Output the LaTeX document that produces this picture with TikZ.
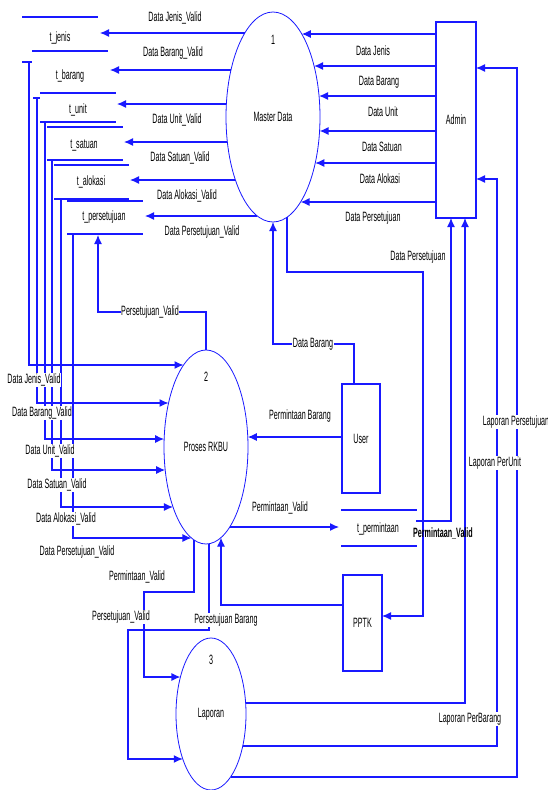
\documentclass[tikz,border=0pt]{standalone}
\usepackage{fontspec}
\newfontfamily\lblfont{Liberation Sans}[FakeStretch=0.53]
\usetikzlibrary{shapes.geometric,arrows.meta}
\definecolor{dfdblue}{RGB}{25,25,255}
\newcommand\mdxl[1]{(273-47*sqrt(1-(((#1)-117)/105)^2))}
\newcommand\mdxr[1]{(273+47*sqrt(1-(((#1)-117)/105)^2))}
\newcommand\mdyb[1]{(117+105*sqrt(1-(((#1)-273)/47)^2))}
\newcommand\prxl[1]{(206-42*sqrt(1-(((#1)-447)/97)^2))}
\newcommand\prxr[1]{(206+42*sqrt(1-(((#1)-447)/97)^2))}
\newcommand\pryb[1]{(447+97*sqrt(1-(((#1)-206)/42)^2))}
\newcommand\lapxl[1]{(211-35*sqrt(1-(((#1)-714)/76)^2))}
\newcommand\lapxr[1]{(211+35*sqrt(1-(((#1)-714)/76)^2))}
\begin{document}
\begin{tikzpicture}[x=1pt,y=-1pt,
  flow/.style={draw=dfdblue,line width=1.2pt,-{Latex[length=9pt,width=8pt]}},
  wire/.style={draw=dfdblue,line width=1.2pt},
  proc/.style={ellipse,draw=dfdblue,line width=0.8pt,inner sep=0pt,outer sep=0pt,
    font=\lblfont\fontsize{13.5}{14}\selectfont},
  ent/.style={rectangle,draw=dfdblue,line width=1.2pt,inner sep=0pt,outer sep=0pt,
    font=\lblfont\fontsize{13.5}{14}\selectfont},
  lbl/.style={font=\lblfont\fontsize{13.5}{14}\selectfont,fill=white,inner sep=0.6pt,text=black},
  txt/.style={font=\lblfont\fontsize{13.5}{14}\selectfont,inner sep=0pt,text=black},
]
\useasboundingbox[fill=white] (0,0) rectangle (548,790);

% processes
\node[proc,minimum width=94pt,minimum height=210pt] (md) at (273,117) {Master Data};
\node[txt] (mdnum) at (273,40) {1};
\node[proc,minimum width=84pt,minimum height=194pt] (pr) at (206,447) {Proses RKBU};
\node[txt] (prnum) at (206,377) {2};
\node[proc,minimum width=70pt,minimum height=152pt] (lap) at (211,714) {Laporan};
\node[txt] (lapnum) at (211,660) {3};

% external entities
\node[ent,minimum width=40pt,minimum height=196pt] (admin) at (456,120) {Admin};
\node[ent,minimum width=38pt,minimum height=109pt] (user) at (361,438.5) {User};
\node[ent,minimum width=39pt,minimum height=96pt] (pptk) at (362.5,623) {PPTK};

% data stores
\node[txt] (tjenis) at (60,38) {t\_jenis};
\node[txt] (tbarang) at (70,76) {t\_barang};
\node[txt] (tunit) at (78,110) {t\_unit};
\node[txt] (tsatuan) at (84,145) {t\_satuan};
\node[txt] (talokasi) at (91,182) {t\_alokasi};
\node[txt] (tpersetujuan) at (104,217) {t\_persetujuan};
\node[txt] (tpermintaan) at (378,529) {t\_permintaan};
\draw[wire] (22,17) -- (98,17);
\draw[wire] (32,51) -- (108,51);
\draw[wire] (40,93) -- (116,93);
\draw[wire] (40,122) -- (116,122);
\draw[wire] (47,127) -- (123,127);
\draw[wire] (47,160) -- (123,160);
\draw[wire] (54,165) -- (129,165);
\draw[wire] (54,199) -- (129,199);
\draw[wire] (67,201) -- (143,201);
\draw[wire] (67,234) -- (143,234);
\draw[wire] (22,62) -- (32,62);
\draw[wire] (33,98) -- (40,98);
\draw[wire] (341,510) -- (417,510);
\draw[wire] (341,546) -- (417,546);

% Admin -> Master Data
\foreach \yy/\lx/\ly/\lab in {34/373/51/Data Jenis, 66/379/82/Data Barang, 96/383/112/Data Unit, 131/382/147/Data Satuan, 163/380/179/Data Alokasi, 202/373/218/Data Persetujuan}{
  \draw[flow] (admin.west |- 0,\yy) -- ({\mdxr{\yy}},\yy);
  \node[lbl] at (\lx,\ly) {\lab};
}

% Master Data -> stores
\foreach \yy/\xt/\lx/\ly/\lab in {33/100/175/18/Data Jenis\_Valid, 70/110/173/53/Data Barang\_Valid, 104/117/177/120/Data Unit\_Valid, 142/124/180/158/Data Satuan\_Valid, 180/130/187/196/Data Alokasi\_Valid, 216/145/202/232/Data Persetujuan\_Valid}{
  \draw[flow] ({\mdxl{\yy}},\yy) -- (\xt,\yy);
  \node[lbl] at (\lx,\ly) {\lab};
}

% stores -> Proses RKBU
\foreach \xx/\ys/\yy in {29/62/365, 37/98/403, 45/122/439, 52/160/470, 61/199/507, 73/234/538}{
  \draw[flow] (\xx,\ys) -- (\xx,\yy) -- ({\prxl{\yy}},\yy);
}
\node[lbl] at (34,380) {Data Jenis\_Valid};
\node[lbl] at (42,413) {Data Barang\_Valid};
\node[lbl] at (50,451) {Data Unit\_Valid};
\node[lbl] at (57,485) {Data Satuan\_Valid};
\node[lbl] at (66,519) {Data Alokasi\_Valid};
\node[lbl] at (77,552) {Data Persetujuan\_Valid};

% Proses RKBU -> t_persetujuan
\draw[flow] (pr.north) -- (206,312) -- (98,312) -- (98,235);
\node[lbl] at (150,312) {Persetujuan\_Valid};

% User -> Master Data
\draw[flow] (user.north -| 354,0) -- (354,344) -- (273,344) -- (md.south);
\node[lbl] at (313,344) {Data Barang};

% Master Data -> PPTK
\draw[flow] (287,{\mdyb{287}}) -- (287,272) -- (423,272) -- (423,616) -- (pptk.east |- 0,616);
\node[lbl] at (418,257) {Data Persetujuan};

% User -> Proses RKBU
\draw[flow] (user.west |- 0,437) -- ({\prxr{437}},437);
\node[lbl] at (300,416) {Permintaan Barang};

% Proses RKBU -> t_permintaan
\draw[flow] ({\prxr{527}},527) -- (339,527);
\node[lbl] at (280,508) {Permintaan\_Valid};

% PPTK -> Proses RKBU
\draw[flow] (pptk.west |- 0,605) -- (221,605) -- (221,{\pryb{221}});

% Proses RKBU -> Laporan
\draw[flow] (194,{\pryb{194}}) -- (194,592) -- (144,592) -- (144,677) -- ({\lapxl{677}},677);
\draw[flow] (209,{\pryb{209}}) -- (209,630) -- (128,630) -- (128,759) -- ({\lapxl{759}},759);
\node[lbl] at (226,620) {Persetujuan Barang};
\node[lbl] at (137,577) {Permintaan\_Valid};
\node[lbl] at (121,617) {Persetujuan\_Valid};

% t_permintaan -> Admin
\draw[flow] (416,521) -- (451,521) -- (admin.south -| 451,0);

% Laporan -> Admin
\draw[flow] ({\lapxr{703}},703) -- (465,703) -- (admin.south -| 465,0);
\draw[flow] ({\lapxr{746}},746) -- (497,746) -- (497,179) -- (admin.east |- 0,179);
\draw[flow] ({\lapxr{777}},777) -- (517,777) -- (517,68) -- (admin.east |- 0,68);
\node[lbl] at (516,422) {Laporan Persetujuan};
\node[lbl] at (495,463) {Laporan PerUnit};
\node[lbl] at (470,719) {Laporan PerBarang};

\node[txt,font=\lblfont\bfseries\fontsize{13.5}{14}\selectfont] at (443,533) {Permintaan\_Valid};
\end{tikzpicture}
\end{document}
